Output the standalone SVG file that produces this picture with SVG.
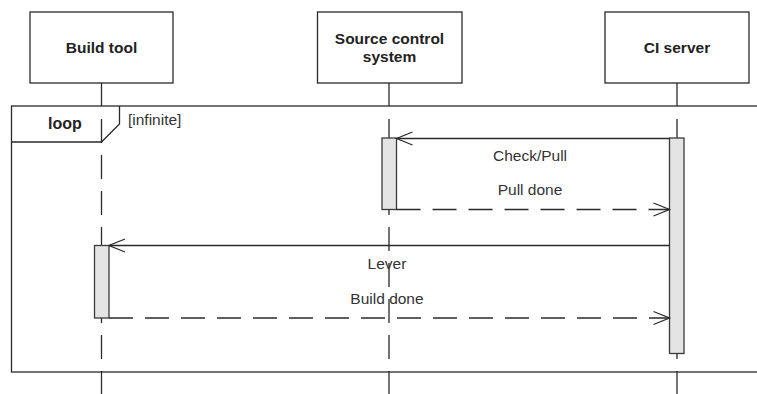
<svg xmlns="http://www.w3.org/2000/svg" width="757" height="394" viewBox="0 0 757 394">
  <style>
    .box { fill: #ffffff; stroke: #2a2a2a; stroke-width: 1.3; }
    .title { font-family: "Liberation Sans", Arial, sans-serif; font-size: 15.5px; font-weight: bold; fill: #222; text-anchor: middle; }
    .label { font-family: "Liberation Sans", Arial, sans-serif; font-size: 15.5px; fill: #333; text-anchor: middle; }
    .life { stroke: #2a2a2a; stroke-width: 1.3; fill: none; }
    .dash { stroke-dasharray: 24 12; }
    .act { fill: #e4e4e4; stroke: #3a3a3a; stroke-width: 1.3; }
    .msg { stroke: #2a2a2a; stroke-width: 1.3; fill: none; }
    .frame { fill: none; stroke: #2a2a2a; stroke-width: 1.3; }
  </style>
  <defs>
    <marker id="open" viewBox="0 0 20 16" refX="18" refY="8" markerWidth="20" markerHeight="16" markerUnits="userSpaceOnUse" orient="auto">
      <path d="M2,1.5 L18,8 L2,14.5" fill="none" stroke="#2a2a2a" stroke-width="1.3"/>
    </marker>
  </defs>

  <rect width="757" height="394" fill="#ffffff"/>

  <!-- combined fragment: loop -->
  <g id="loop-frame">
    <rect class="frame" x="11.5" y="106" width="760" height="266"/>
    <path class="frame" d="M11.5,142 H101.5 L119.5,124 V106"/>
    <text class="title" x="65" y="128.5" style="font-size:16px">loop</text>
    <text class="label" x="128" y="125" style="text-anchor:start">[infinite]</text>
  </g>

  <!-- lifelines -->
  <g id="lifelines">
    <line class="life" x1="101.5" y1="83" x2="101.5" y2="106"/>
    <line class="life dash" x1="101.5" y1="119" x2="101.5" y2="372"/>
    <line class="life" x1="101.5" y1="372" x2="101.5" y2="394"/>

    <line class="life" x1="389" y1="83" x2="389" y2="106"/>
    <line class="life dash" x1="389" y1="119" x2="389" y2="372"/>
    <line class="life" x1="389" y1="372" x2="389" y2="394"/>

    <line class="life" x1="677" y1="83" x2="677" y2="106"/>
    <line class="life dash" x1="677" y1="119" x2="677" y2="372"/>
    <line class="life" x1="677" y1="372" x2="677" y2="394"/>
  </g>

  <!-- participants -->
  <g id="build-tool">
    <rect class="box" x="30" y="12" width="143" height="71"/>
    <text class="title" x="101.5" y="52.5">Build tool</text>
    <rect class="act" x="94.5" y="245.5" width="14.5" height="72.5"/>
  </g>
  <g id="source-control">
    <rect class="box" x="317.5" y="12" width="144.5" height="71"/>
    <text class="title" x="389.5" y="43.5">Source control</text>
    <text class="title" x="389.5" y="61.5">system</text>
    <rect class="act" x="382" y="138" width="14.5" height="71.5"/>
  </g>
  <g id="ci-server">
    <rect class="box" x="605" y="12" width="144" height="71"/>
    <text class="title" x="677" y="53">CI server</text>
    <rect class="act" x="669.5" y="138" width="14.5" height="215.5"/>
  </g>

  <!-- messages -->
  <g id="connectors">
    <line class="msg" x1="669.5" y1="138.5" x2="396.5" y2="138.5" marker-end="url(#open)"/>
    <text class="label" x="530" y="161">Check/Pull</text>

    <line class="msg dash" x1="396.5" y1="209.5" x2="669.5" y2="209.5" marker-end="url(#open)"/>
    <text class="label" x="530" y="195">Pull done</text>

    <line class="msg" x1="669.5" y1="245.5" x2="109" y2="245.5" marker-end="url(#open)"/>
    <text class="label" x="387" y="268.5">Lever</text>

    <line class="msg dash" x1="109" y1="318" x2="669.5" y2="318" marker-end="url(#open)"/>
    <text class="label" x="387" y="303.5">Build done</text>
  </g>
</svg>
